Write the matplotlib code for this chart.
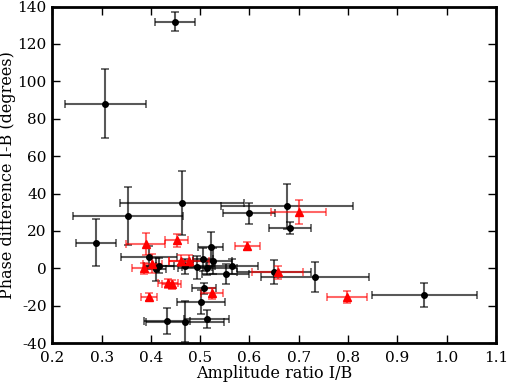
import matplotlib
matplotlib.use("Agg")
import matplotlib.pyplot as plt
import numpy as np

# Black points (circles)
bx = [0.449, 0.307, 0.289, 0.354, 0.463, 0.599, 0.677, 0.682, 0.733, 0.955,
      0.521, 0.396, 0.416, 0.411, 0.470, 0.493, 0.506, 0.514, 0.525, 0.552,
      0.565, 0.508, 0.502, 0.432, 0.469, 0.513, 0.649]
by = [132.0, 88.0, 13.7, 28.1, 34.8, 29.4, 33.3, 21.4, -4.8, -14.3,
      11.6, 6.2, 1.4, -0.5, 1.2, 0.5, 4.8, 0.3, 4.0, -3.2,
      1.2, -10.7, -17.9, -28.2, -28.6, -27.0, -1.8]
bxerr = [0.041, 0.082, 0.041, 0.112, 0.126, 0.053, 0.134, 0.042, 0.109, 0.106,
         0.026, 0.056, 0.030, 0.020, 0.060, 0.030, 0.020, 0.060, 0.040, 0.048,
         0.053, 0.024, 0.049, 0.047, 0.080, 0.045, 0.075]
byerr = [5.2, 18.5, 12.5, 15.5, 17.0, 5.7, 12.0, 3.2, 8.0, 6.5,
         8.0, 5.7, 4.0, 6.0, 4.0, 6.0, 6.0, 4.0, 7.0, 5.3,
         4.0, 3.0, 6.5, 7.1, 10.9, 4.7, 6.4]

# Red points (triangles)
rx = [0.389, 0.452, 0.403, 0.386, 0.461, 0.477, 0.435, 0.442, 0.396, 0.524,
      0.596, 0.700, 0.657, 0.798]
ry = [13.0, 15.0, 2.5, 0.0, 4.0, 4.0, -8.0, -8.6, -15.2, -13.4,
      12.1, 30.3, -2.1, -15.3]
rxerr = [0.040, 0.023, 0.020, 0.025, 0.025, 0.040, 0.020, 0.020, 0.016, 0.023,
         0.026, 0.056, 0.051, 0.040]
ryerr = [5.9, 3.6, 5.0, 3.0, 3.0, 3.0, 2.5, 2.5, 2.0, 3.0,
         2.2, 6.4, 3.4, 3.1]

xticks = [0.2, 0.3, 0.4, 0.5, 0.6, 0.7, 0.8, 0.9, 1.0, 1.1]
yticks = [-40, -20, 0, 20, 40, 60, 80, 100, 120, 140]

plt.rcParams['font.family'] = ['DejaVu Serif']
plt.rcParams['xtick.direction'] = 'in'
plt.rcParams['ytick.direction'] = 'in'

fig = plt.figure(figsize=(5.09, 3.86), dpi=100)
ax = fig.add_axes([0.103, 0.111, 0.871, 0.872])

ax.errorbar(bx, by, xerr=bxerr, yerr=byerr, fmt='o', color='black', ms=4,
            ecolor=(0, 0, 0, 0.65), elinewidth=1.5, capsize=3, capthick=1.2)
ax.errorbar(rx, ry, xerr=rxerr, yerr=ryerr, fmt='^', color='red', mec='red', ms=6,
            ecolor=(1, 0, 0, 0.6), elinewidth=1.5, capsize=3, capthick=1.2)

ax.set_xlim(0.2, 1.1)
ax.set_ylim(-40, 140)
ax.set_xticks(xticks)
ax.set_yticks(yticks)
ax.set_xticklabels([f"{t:.1f}" for t in xticks])
ax.set_yticklabels([str(t) for t in yticks])
ax.tick_params(axis='both', which='both', labelsize=11, top=True, right=True,
               length=6, width=1)
ax.tick_params(axis='x', pad=6)
ax.tick_params(axis='y', pad=4)
for s in ax.spines.values():
    s.set_linewidth(2)
ax.set_xlabel("Amplitude ratio I/B", fontsize=11.5, labelpad=0)
ax.set_ylabel("Phase difference I-B (degrees)", fontsize=11.5, labelpad=1)

fig.savefig("out.png", dpi=100)
